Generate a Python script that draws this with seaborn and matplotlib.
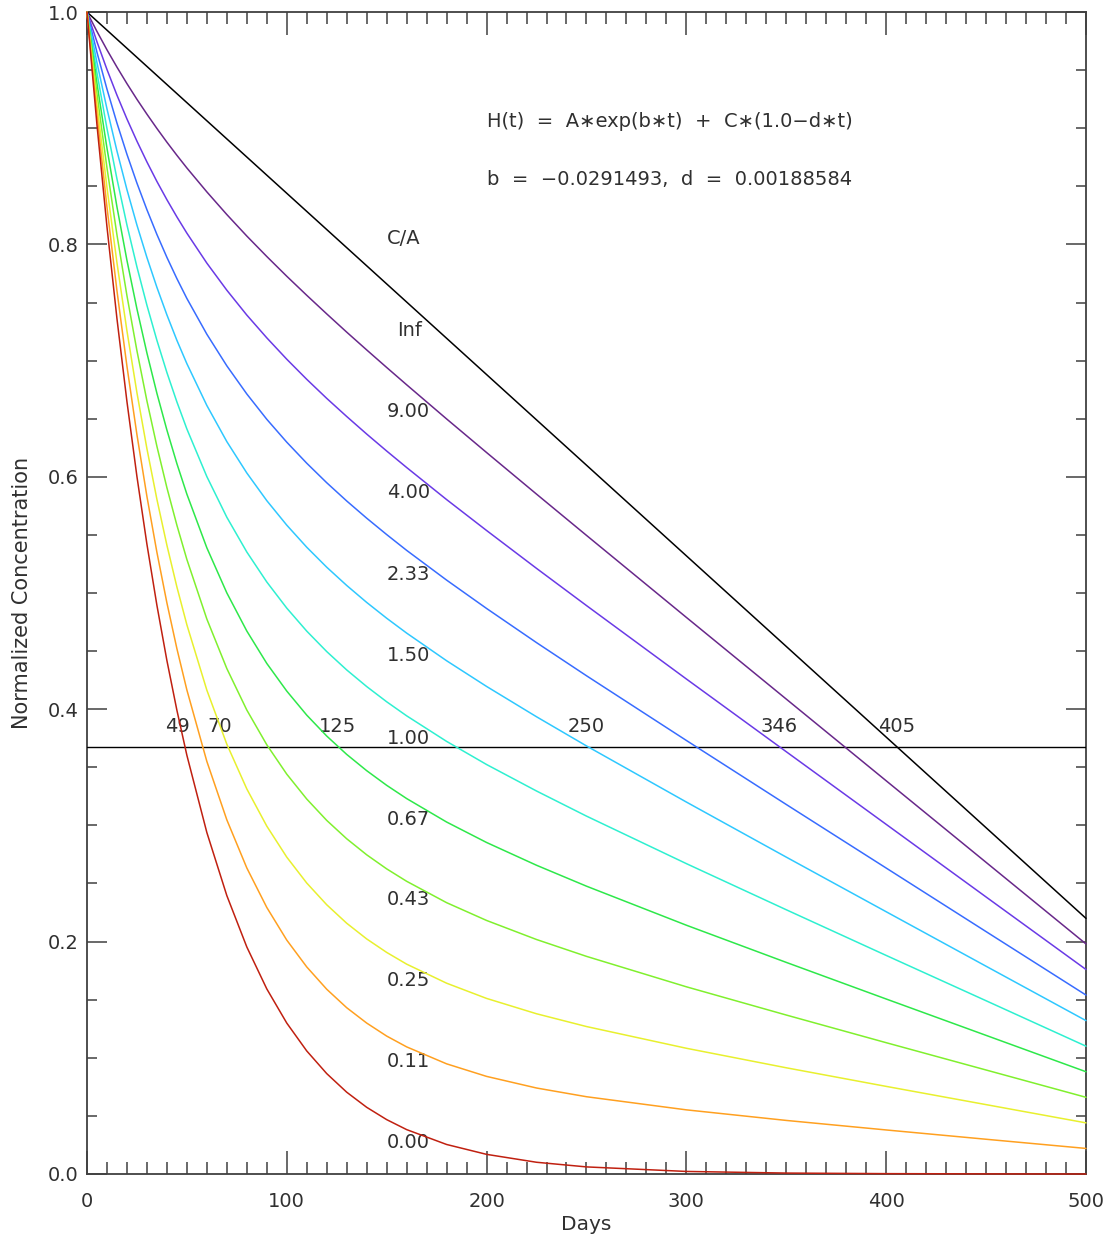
import pandas as pd
import seaborn as sns
import matplotlib.pyplot as plt

# values
days = [0, 5, 10, 15, 20, 25, 30, 35, 40, 45, 50, 60, 70, 80, 90, 100, 110, 120,
        130, 140, 150, 160, 180, 200, 225, 250, 300, 350, 400, 450, 500]

ratio_labels = ['Inf', '9.00', '4.00', '2.33', '1.50', '1.00',
                '0.67', '0.43', '0.25', '0.11', '0.00']

conc_inf = [1, 0.9922, 0.9844, 0.9766, 0.9688, 0.9610, 0.9532, 0.9454, 0.9376, 0.9298, 0.9220,
            0.9064, 0.8908, 0.8752, 0.8596, 0.8440, 0.8284, 0.8128, 0.7972, 0.7816, 0.7660,
            0.7504, 0.7192, 0.6880, 0.6490, 0.6100, 0.5320, 0.4540, 0.3760, 0.2980, 0.2200]
conc_900 = [1, 0.9833, 0.9675, 0.9526, 0.9384, 0.9249, 0.9121, 0.8998, 0.8880, 0.8767, 0.8658,
            0.8452, 0.8257, 0.8072, 0.7896, 0.7726, 0.7562, 0.7402, 0.7245, 0.7092, 0.6941,
            0.6792, 0.6498, 0.6209, 0.5851, 0.5496, 0.4790, 0.4087, 0.3384, 0.2682, 0.1980]
conc_400 = [1, 0.9744, 0.9506, 0.9285, 0.9080, 0.8889, 0.8710, 0.8542, 0.8385, 0.8237, 0.8097,
            0.7839, 0.7606, 0.7392, 0.7196, 0.7012, 0.6839, 0.6675, 0.6519, 0.6368, 0.6222,
            0.6080, 0.5804, 0.5538, 0.5212, 0.4892, 0.4260, 0.3634, 0.3009, 0.2384, 0.1760]
conc_233 = [1, 0.9654, 0.9337, 0.9045, 0.8776, 0.8528, 0.8299, 0.8086, 0.7889, 0.7706, 0.7535,
            0.7227, 0.6955, 0.6713, 0.6495, 0.6298, 0.6117, 0.5949, 0.5792, 0.5644, 0.5503,
            0.5367, 0.5111, 0.4867, 0.4573, 0.4288, 0.3731, 0.3180, 0.2633, 0.2086, 0.1540]
conc_150 = [1, 0.9565, 0.9168, 0.8805, 0.8472, 0.8167, 0.7888, 0.7631, 0.7394, 0.7175, 0.6974,
            0.6614, 0.6303, 0.6033, 0.5795, 0.5584, 0.5394, 0.5222, 0.5065, 0.4919, 0.4783,
            0.4655, 0.4417, 0.4196, 0.3935, 0.3684, 0.3201, 0.2727, 0.2257, 0.1788, 0.1320]
conc_100 = [1, 0.9476, 0.8999, 0.8565, 0.8168, 0.7807, 0.7477, 0.7175, 0.6898, 0.6645, 0.6412,
            0.6002, 0.5652, 0.5353, 0.5095, 0.4870, 0.4672, 0.4496, 0.4338, 0.4195, 0.4064,
            0.3943, 0.3723, 0.3524, 0.3296, 0.3080, 0.2671, 0.2274, 0.1881, 0.1491, 0.1100]
conc_067 = [1, 0.9387, 0.8830, 0.8324, 0.7864, 0.7446, 0.7066, 0.6719, 0.6403, 0.6114, 0.5851,
            0.5389, 0.5001, 0.4673, 0.4394, 0.4156, 0.3949, 0.3769, 0.3611, 0.3471, 0.3345,
            0.3231, 0.3029, 0.2853, 0.2657, 0.2477, 0.2141, 0.1821, 0.1506, 0.1193, 0.0880]
conc_043 = [1, 0.9298, 0.8661, 0.8084, 0.7560, 0.7086, 0.6654, 0.6263, 0.5907, 0.5584, 0.5289,
            0.4776, 0.4350, 0.3993, 0.3694, 0.3441, 0.3227, 0.3043, 0.2885, 0.2747, 0.2626,
            0.2519, 0.2335, 0.2182, 0.2018, 0.1873, 0.1611, 0.1368, 0.1130, 0.0895, 0.0660]
conc_025 = [1, 0.9208, 0.8492, 0.7844, 0.7257, 0.6725, 0.6243, 0.5807, 0.5412, 0.5053, 0.4727,
            0.4164, 0.3699, 0.3314, 0.2994, 0.2727, 0.2504, 0.2317, 0.2158, 0.2023, 0.1907,
            0.1806, 0.1642, 0.1511, 0.1379, 0.1269, 0.1082, 0.0914, 0.0754, 0.0597, 0.0440]
conc_011 = [1, 0.9119, 0.8323, 0.7603, 0.6953, 0.6364, 0.5832, 0.5351, 0.4916, 0.4522, 0.4166,
            0.3551, 0.3048, 0.2634, 0.2294, 0.2013, 0.1782, 0.1590, 0.1431, 0.1299, 0.1187,
            0.1094, 0.0948, 0.0840, 0.0740, 0.0665, 0.0552, 0.0461, 0.0379, 0.0299, 0.0220]
conc_000 = [1, 0.9030, 0.8154, 0.7363, 0.6649, 0.6004, 0.5421, 0.4895, 0.4420, 0.3992, 0.3604,
            0.2939, 0.2396, 0.1954, 0.1593, 0.1299, 0.1059, 0.0864, 0.0704, 0.0574, 0.0468,
            0.0382, 0.0254, 0.0169, 0.0101, 0.0061, 0.0022, 0.0008, 0.0003, 0.0001, 0.0000]

efold_days = [45.3, 66.6, 125.4, 250, 346.3, 405.4]
efold_labels = ['49', '70', '125', '250', '346', '405']
efold_level = 0.3679

curve_colors = ['#000000', '#68288a', '#6a3ae6', '#386cff', '#2ec8ff', '#2ef0d0',
                '#2ee84a', '#80f02e', '#e8f02e', '#ffa020', '#c02010']

all_curves = [conc_inf, conc_900, conc_400, conc_233, conc_150, conc_100,
              conc_067, conc_043, conc_025, conc_011, conc_000]

rows = []
for lab, vals in zip(ratio_labels, all_curves):
    for t, v in zip(days, vals):
        rows.append({'days': t, 'conc': v, 'ratio': lab})
df = pd.DataFrame(rows)

sns.set_theme(style='white')
plt.rcParams['font.family'] = ['DejaVu Sans']
axis_gray = '#404040'
text_gray = '#303030'

fig = plt.figure(figsize=(11.12, 12.38), dpi=100)
ax = fig.add_axes([0.0782, 0.0517, 0.8984, 0.9386])

sns.lineplot(data=df, x='days', y='conc', hue='ratio', hue_order=ratio_labels,
             palette=curve_colors, estimator=None, sort=False, legend=False,
             linewidth=1.1, ax=ax, zorder=5, clip_on=False)

ax.axhline(efold_level, color='black', linewidth=1.0, zorder=4)

ax.set_xlim(0, 500)
ax.set_ylim(0, 1.0)
ax.set_xticks(range(0, 501, 100))
ax.set_xticks(range(0, 501, 10), minor=True)
ax.set_yticks([0.0, 0.2, 0.4, 0.6, 0.8, 1.0])
ax.set_yticklabels(['0.0', '0.2', '0.4', '0.6', '0.8', '1.0'])
ax.set_yticks([i * 0.05 for i in range(21)], minor=True)

for s in ax.spines.values():
    s.set_color(axis_gray)
    s.set_linewidth(1.3)

ax.tick_params(axis='x', which='major', direction='in', length=16.5, width=1.1,
               color=axis_gray, top=True, bottom=True, labelsize=14, labelcolor=text_gray, pad=13)
ax.tick_params(axis='x', which='minor', direction='in', length=8.6, width=1.1,
               color=axis_gray, top=True, bottom=True)
ax.tick_params(axis='y', which='major', direction='in', length=14.4, width=1.1,
               color=axis_gray, left=True, right=True, labelsize=14, labelcolor=text_gray, pad=6)
ax.tick_params(axis='y', which='minor', direction='in', length=7.2, width=1.1,
               color=axis_gray, left=True, right=True)

ax.set_xlabel('Days', fontsize=14.5, color=text_gray, labelpad=3)
ax.set_ylabel('Normalized Concentration', fontsize=15, color=text_gray, labelpad=11)

txt = dict(fontsize=14, color=text_gray)
ax.text(200.2, 0.906, 'H(t)  =  A\u2217exp(b\u2217t)  +  C\u2217(1.0\u2212d\u2217t)', va='center', **txt)
ax.text(200.2, 0.856, 'b  =  \u22120.0291493,  d  =  0.00188584', va='center', **txt)

ax.text(150.2, 0.8055, 'C/A', va='center', **txt)
label_y = [0.7263, 0.6566, 0.5861, 0.5155, 0.4458, 0.3752,
           0.3055, 0.2358, 0.1661, 0.0964, 0.0267]
for lab, yv in zip(ratio_labels, label_y):
    xv = 155.2 if lab == 'Inf' else 150.2
    ax.text(xv, yv, lab, va='center', **txt)

for t, lab in zip(efold_days, efold_labels):
    ax.text(t, 0.3847, lab, ha='center', va='center', **txt)

fig.savefig('out.png', dpi=100)
